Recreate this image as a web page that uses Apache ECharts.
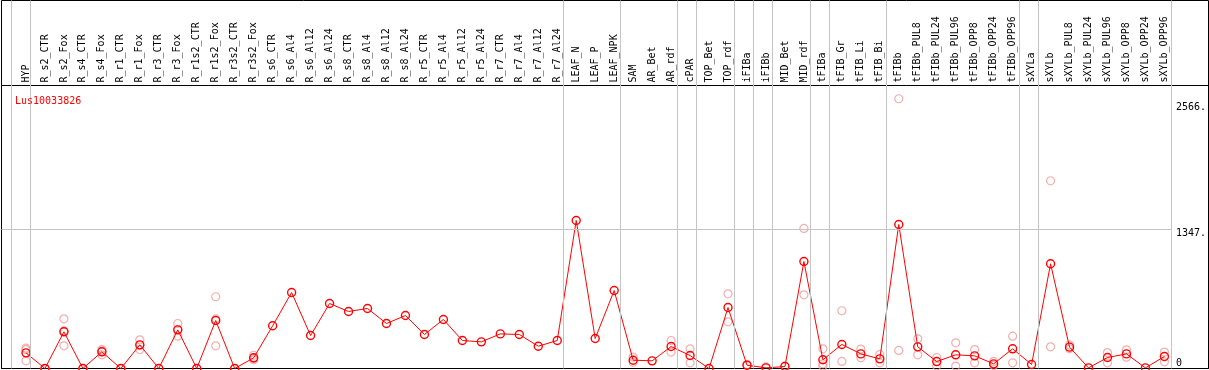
<!DOCTYPE html>
<html>
<head>
<meta charset="utf-8">
<script src="https://cdn.jsdelivr.net/npm/echarts@6/dist/echarts.min.js"></script>
<style>
html,body{margin:0;padding:0;background:#fff;}
#chart{width:1209px;height:370px;}
</style>
</head>
<body>
<div id="chart"></div>
<script>
var titleText = 'Lus10033826';
var categories = ['HYP','R_s2_CTR','R_s2_Fox','R_s4_CTR','R_s4_Fox','R_r1_CTR','R_r1_Fox','R_r3_CTR','R_r3_Fox','R_r1s2_CTR','R_r1s2_Fox','R_r3s2_CTR','R_r3s2_Fox','R_s6_CTR','R_s6_Al4','R_s6_Al12','R_s6_Al24','R_s8_CTR','R_s8_Al4','R_s8_Al12','R_s8_Al24','R_r5_CTR','R_r5_Al4','R_r5_Al12','R_r5_Al24','R_r7_CTR','R_r7_Al4','R_r7_Al12','R_r7_Al24','LEAF_N','LEAF_P','LEAF_NPK','SAM','AR_Bet','AR_rdf','cPAR','TOP_Bet','TOP_rdf','iFIBa','iFIBb','MID_Bet','MID_rdf','tFIBa','tFIB_Gr','tFIB_Li','tFIB_Bi','tFIBb','tFIBb_PUL8','tFIBb_PUL24','tFIBb_PUL96','tFIBb_OPP8','tFIBb_OPP24','tFIBb_OPP96','sXYLa','sXYLb','sXYLb_PUL8','sXYLb_PUL24','sXYLb_PUL96','sXYLb_OPP8','sXYLb_OPP24','sXYLb_OPP96'];
var meanValues = [151,0,354,0,161,0,228,0,373,0,463,0,103,412,733,318,627,550,579,434,511,328,473,270,257,334,328,215,270,1428,289,752,80,74,212,125,0,588,32,6,19,1032,84,232,141,93,1389,209,67,132,122,45,190,39,1010,206,6,106,141,6,116];
var replicateValues = [[183,74,196],[0,0],[479,219,364],[0,0],[183,132,168],[0,0],[277,183,224],[0],[434,312,373],[0],[692,219,478],[0],[128,84,97],[],[],[],[],[],[],[],[],[],[],[],[],[],[],[],[],[],[],[],[110,60],[],[270,158],[190,55],[],[720,450],[38],[15],[25],[1351,711],[190,22,45],[557,68],[187,103],[135,55],[2602,174],[286,132],[106,23],[248,23],[183,55],[68,30],[312,55],[],[1811,209],[226,190],[],[154,55],[180,109],[],[158,64]];
var groupSizes = [1,28,3,3,1,2,1,1,2,1,3,7,1,7];
var yTickValues = [0,1347,2566];
var yTickLabels = ['0','1347.','2566.'];
var yMax = 2730;

// layout / style
var FONT = 'DejaVu Sans Mono';
var RED = '#ff0000';
var PINK = '#f09a9a';
var GRAY = '#c4c4c4';
var NOFILL = 'rgba(0,0,0,0)';
var step = 19.01, firstCenter = 26, boundaryOffset = 4.5;
var frameLeft = 1.5, frameRight = 1208.5;
var nCat = categories.length;
var gridLeft = firstCenter - step / 2;
var gridWidth = step * nCat;
var vMin = (frameLeft - firstCenter) / step + 1;
var vMax = (frameRight - firstCenter) / step + 1;
var bOff = boundaryOffset / step;

var boundaries = [0];
var acc = 0;
groupSizes.forEach(function (s) { acc += s; boundaries.push(acc); });
var vLines = boundaries.map(function (k) { return { xAxis: k + bOff }; });

var repData = [];
replicateValues.forEach(function (arr, i) {
  arr.forEach(function (v) { repData.push([i, v]); });
});

var yLabelMap = {};
yTickValues.forEach(function (v, i) { yLabelMap[v] = yTickLabels[i]; });

var chart = echarts.init(document.getElementById('chart'), null, {renderer: 'canvas'});
chart.setOption({
  animation: false,
  backgroundColor: '#fff',
  title: {
    text: titleText, left: 10, top: 91,
    textStyle: {color: RED, fontSize: 10, fontFamily: FONT, fontWeight: 'normal'}
  },
  grid: [
    {left: frameLeft, top: 0.5, width: frameRight - frameLeft, height: 368, show: true, borderColor: '#000', borderWidth: 1, backgroundColor: 'transparent'},
    {left: frameLeft, top: 85.5, width: frameRight - frameLeft, height: 283, show: true, borderColor: '#000', borderWidth: 1, backgroundColor: 'transparent'},
    {left: gridLeft, top: 85.5, width: gridWidth, height: 283}
  ],
  xAxis: [
    {gridIndex: 0, type: 'value', min: vMin, max: vMax, show: false},
    {gridIndex: 1, type: 'value', min: vMin, max: vMax, show: false},
    {gridIndex: 2, type: 'category', data: categories, position: 'top', boundaryGap: true,
      axisLine: {show: false}, axisTick: {show: false}, splitLine: {show: false},
      axisLabel: {interval: 0, rotate: 90, margin: 3, fontSize: 10, fontFamily: FONT, color: '#000'}}
  ],
  yAxis: [
    {gridIndex: 0, type: 'value', min: 0, max: 1, show: false},
    {gridIndex: 1, type: 'value', min: 0, max: yMax, show: false},
    {gridIndex: 2, type: 'value', min: 0, max: yMax, position: 'right',
      axisLine: {show: false}, axisTick: {show: false}, splitLine: {show: false},
      axisLabel: {
        customValues: yTickValues, margin: 2, align: 'left', fontSize: 10, fontFamily: FONT, color: '#000',
        formatter: function (v) { var t = yLabelMap[v]; return v === 0 ? '{b|' + t + '}' : '{a|' + t + '}'; },
        rich: {
          a: {fontSize: 10, fontFamily: FONT, color: '#000', padding: [10, 0, 0, 0]},
          b: {fontSize: 10, fontFamily: FONT, color: '#000', padding: [0, 0, 10, 0]}
        }
      }}
  ],
  series: [
    {type: 'line', xAxisIndex: 0, yAxisIndex: 0, data: [], silent: true,
      markLine: {silent: true, symbol: 'none', animation: false, label: {show: false},
        lineStyle: {color: GRAY, type: 'solid', width: 1}, data: vLines}},
    {type: 'line', xAxisIndex: 1, yAxisIndex: 1, data: [], silent: true,
      markLine: {silent: true, symbol: 'none', animation: false, label: {show: false},
        lineStyle: {color: GRAY, type: 'solid', width: 1},
        data: [[{coord: [vMin, yTickValues[1]]}, {coord: [boundaries[boundaries.length - 1] + bOff, yTickValues[1]]}]]}},
    {type: 'scatter', xAxisIndex: 2, yAxisIndex: 2, data: repData, symbol: 'circle', symbolSize: 8,
      itemStyle: {color: NOFILL, borderColor: PINK, borderWidth: 1.2}, z: 3},
    {type: 'line', xAxisIndex: 2, yAxisIndex: 2, data: meanValues, symbol: 'circle', symbolSize: 8,
      showAllSymbol: true,
      lineStyle: {color: RED, width: 1}, itemStyle: {color: NOFILL, borderColor: RED, borderWidth: 1.4}, z: 4}
  ]
});
</script>
</body>
</html>
